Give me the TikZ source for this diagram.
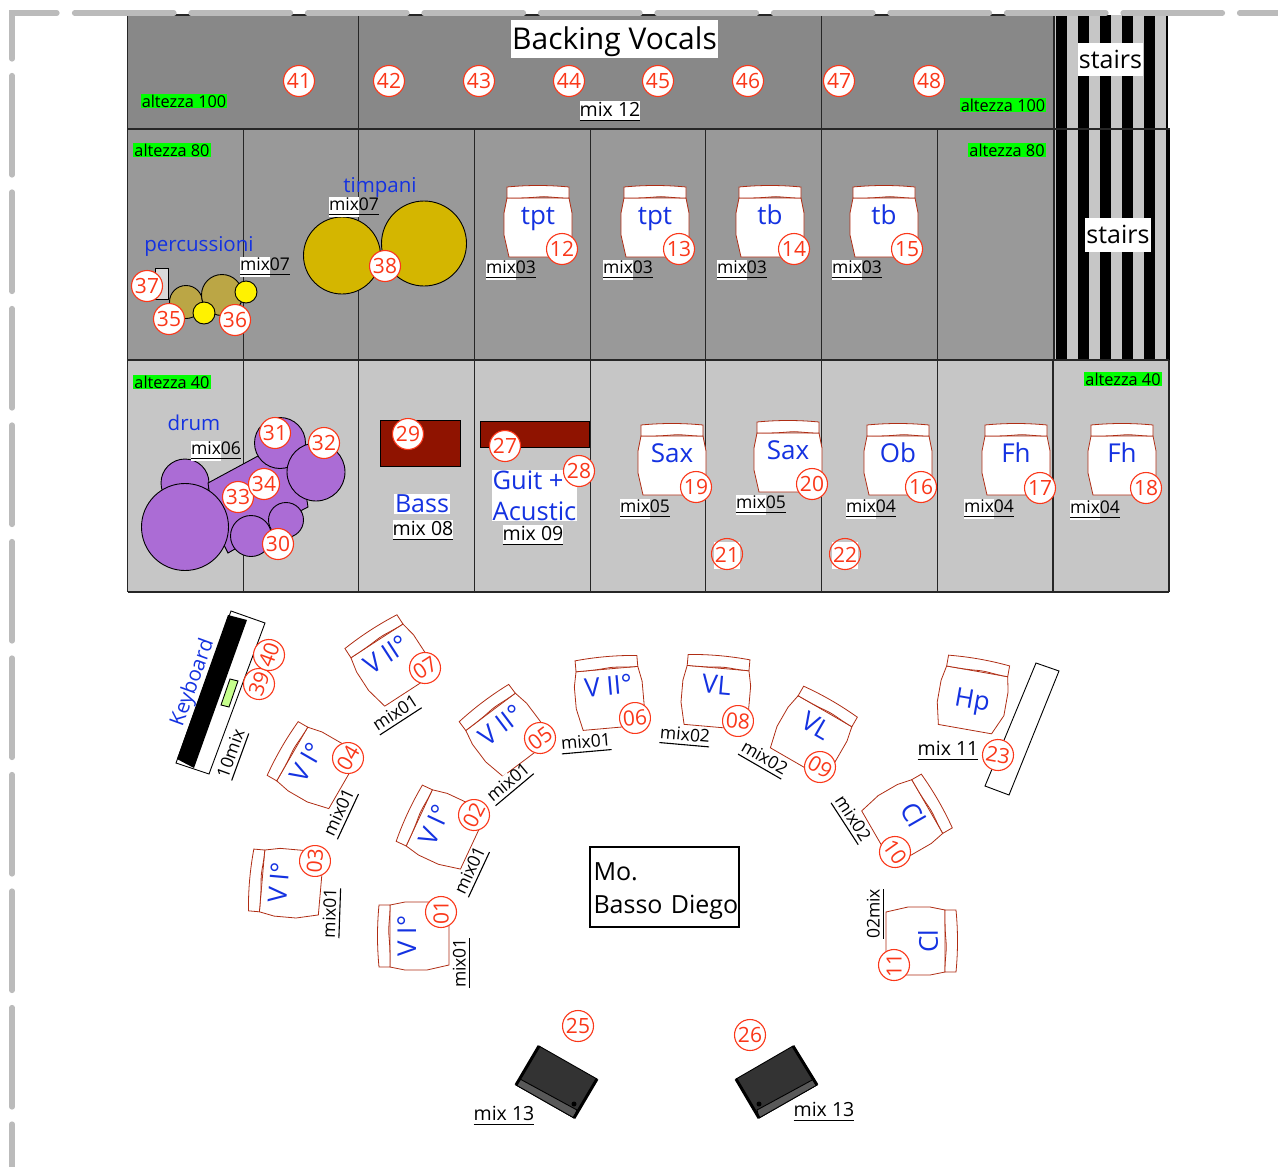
\documentclass[tikz,border=0pt]{standalone}
\usepackage{fontspec}
\setmainfont{Open Sans}
\usepackage{xcolor}
\usetikzlibrary{positioning, calc}
\definecolor{stageblue}{RGB}{20, 50, 225}
\definecolor{stagered}{RGB}{250, 55, 25}
\definecolor{standred}{RGB}{175, 45, 20}
\definecolor{rowhigh}{RGB}{136, 136, 136}
\definecolor{rowmid}{RGB}{153, 153, 153}
\definecolor{rowlow}{RGB}{198, 198, 198}
\definecolor{wallgray}{RGB}{187, 187, 187}
\definecolor{drumpurple}{RGB}{171, 108, 213}
\definecolor{timpgold}{RGB}{212, 182, 0}
\definecolor{perctan}{RGB}{187, 166, 69}
\definecolor{ampred}{RGB}{143, 19, 0}
\setlength{\fboxsep}{0pt}
\newcommand{\mixtag}[1]{\vtop{\hbox{\colorbox{white}{\strut mix}#1}\kern-2.5pt\hrule height 1.1pt}}
\newcommand{\mixline}[1]{\vtop{\hbox{\strut #1}\kern-2.5pt\hrule height 1.1pt}}
\tikzset{
    cell/.style={draw=black!85, line width=1.1pt},
    wall/.style={wallgray, line width=5.2pt, line cap=round},
    numtag/.style={circle, draw=stagered, line width=1.1pt, fill=white, text=stagered, inner sep=0pt, minimum size=31pt, font=\fontsize{21}{23}\selectfont},
    opentag/.style={numtag, fill=none},
    numbox/.style={fill=white, text=stagered, inner sep=0pt, minimum width=26pt, minimum height=27pt, font=\fontsize{21}{23}\selectfont},
    heightbox/.style={fill=green, inner sep=1pt, font=\fontsize{16.3}{18}\selectfont},
    bluetext/.style={text=stageblue, inner sep=0pt, font=\fontsize{20.5}{24}\selectfont},
    standtext/.style={text=stageblue, inner sep=0pt, font=\fontsize{26}{28}\selectfont},
    mixtext/.style={inner sep=0pt, font=\fontsize{17.5}{20}\selectfont},
    widetext/.style={mixtext, font=\fontsize{19.5}{22}\selectfont},
    whitetext/.style={fill=white, inner sep=2pt, font=\fontsize{25}{28}\selectfont},
    drumpart/.style={draw=black, fill=drumpurple, line width=0.9pt},
    kit/.style={draw=black, line width=0.9pt},
    pics/stand/.style={code={
        \draw[standred, fill=white, line width=0.8pt] (-31,-24) -- (-34,-9) -- (-34,13) -- (-29,35) -- (25,35) -- (34,15) -- (34,-9) -- (31,-24) -- cycle;
        \draw[standred, fill=white, line width=0.8pt] (-31,-35) .. controls (-10,-37) and (10,-37) .. (31,-35) -- (31,-24) .. controls (15,-24) and (10,-26) .. (0,-25) .. controls (-10,-24) and (-20,-24) .. (-31,-24) -- cycle;
        \node[standtext, transform shape, anchor=base] (-name) at (0,2) {#1};
    }}
}
\begin{document}
\begin{tikzpicture}[x=1pt, y=-1pt]
    \useasboundingbox (0,0) rectangle (1278,1167);

    % Risers
    \fill[rowhigh] (127.5,15) rectangle (1054,129);
    \fill[rowmid] (127.5,129) rectangle (1054,360);
    \fill[rowlow] (127.5,360) rectangle (1169,592);
    \fill[rowlow] (1054,15) rectangle (1168,360);
    \foreach \x in {1056,1078,1100,1122,1144}
        \fill[black] (\x,15) rectangle ++(11,345);
    \fill[black] (1166,15) rectangle (1168,129);
    \fill[black] (1166,129) rectangle (1170,360);
    \foreach \x in {127.5,358.5,821.5,1054}
        \draw[cell] (\x,15) -- (\x,129);
    \foreach \x in {127.5,243.5,358.5,474.5,590.5,705.5,821.5,937.5,1053,1169}
        \draw[cell] (\x,360) -- (\x,592);
    \foreach \x in {127.5,243.5,358.5,474.5,590.5,705.5,821.5,937.5,1054}
        \draw[cell] (\x,129) -- (\x,360);
    \draw[cell] (127.5,15) -- (1054,15);
    \draw[cell] (127.5,129) -- (1170,129);
    \draw[cell] (127.5,360) -- (1169,360);
    \draw[cell] (127.5,592) -- (1169,592);

    % Wall
    \draw[wall] (12,59) -- (12,13) -- (57,13);
    \draw[wall, dash pattern=on 99.5pt off 17pt] (74.5,13) -- (1278,13);
    \draw[wall, dash pattern=on 99.5pt off 17pt] (12,75.5) -- (12,1167);

    % Drum kit
    \draw[drumpart] (185,483) circle (24);
    \draw[drumpart] (208,483) -- (258,456) -- (300,455) -- (308,507) -- (302,510) -- (290,535) -- (235,549) -- (228,553) -- (225,547) -- (215,530) -- cycle;
    \draw[drumpart] (185,527) circle (43.5);
    \draw[drumpart] (280,443) circle (25.5);
    \draw[drumpart] (316,472) circle (29);
    \draw[drumpart] (286,520) circle (17.5);
    \draw[drumpart] (251,536) circle (20.5);

    % Percussion and timpani
    \draw[kit, fill=black!15] (155,268) rectangle (168,299);
    \draw[kit, fill=perctan] (186,302) circle (16.5);
    \draw[kit, fill=perctan] (222,295) circle (20.5);
    \draw[kit, fill=yellow] (246,292) circle (11);
    \draw[kit, fill=yellow] (204,313) circle (11);
    \draw[kit, fill=timpgold] (342,255.5) circle (38.5);
    \draw[kit, fill=timpgold] (424,243.5) circle (42.5);

    % Amps
    \draw[kit, fill=ampred] (380,420) rectangle (460,466);
    \draw[kit, fill=ampred] (480,421) rectangle (589,447);

    % Keyboard
    \draw[kit, fill=white] (231,611) -- (265,623) -- (209,774) -- (176,763) -- cycle;
    \fill[black] (228,615) -- (247,620) -- (194,768) -- (177,759) -- cycle;
    \draw[kit, fill=green!50!yellow!45] (230,679) -- (238,681) -- (229,707) -- (221,705) -- cycle;

    % Harp rack
    \draw[kit, fill=white] (1036,663) -- (1059,671) -- (1009,795) -- (985,786) -- cycle;

    % Monitors
    \draw[kit, fill=black!80] (539,1046) -- (597,1079) -- (574,1118) -- (516,1085) -- cycle;
    \draw[kit, fill=black!65] (520,1079) -- (577,1110) -- (574,1118) -- (516,1085) -- cycle;
    \draw[line width=3pt] (539,1046) -- (516,1085);
    \draw[line width=3pt] (597,1079) -- (574,1118);
    \fill[black] (574,1104) circle (2.5);
    \draw[kit, fill=black!80] (793,1046) -- (817,1085) -- (759,1118) -- (736,1079) -- cycle;
    \draw[kit, fill=black!65] (814,1079) -- (757,1110) -- (759,1118) -- (817,1085) -- cycle;
    \draw[line width=3pt] (793,1046) -- (817,1085);
    \draw[line width=3pt] (736,1079) -- (759,1118);
    \fill[black] (759,1104) circle (2.5);

    % Stands
    \foreach \x/\y/\ang/\txt [count=\i] in {
        538/222/0/tpt, 655/222/0/tpt, 770/222/0/tb, 884/222/0/tb,
        672/460/0/Sax, 788/457/0/Sax, 898/460/0/Ob, 1016/460/0/Fh, 1122/460/0/Fh,
        414/936/90/V I°, 441/828/65/V I°, 286/883/85/V I°, 313/766/60/V I°,
        505/731/37/V II°, 609/693/5/V II°, 390/661/33/V II°,
        716/692/-5/VL, 813/732/-30/VL, 906.5/818.5/-60/Cl, 921/941/-90/, 973/695/-10/}
        \pic[rotate=\ang] (stand\i) at (\x,\y) {stand={\txt}};
    \node[standtext, rotate=90] (clari) at (928,941) {Cl};
    \node[standtext, rotate=-10] (harp) at (972,702) {Hp};

    % Labels
    \node[whitetext, font=\fontsize{30}{34}\selectfont, inner sep=1pt, minimum width=207pt, minimum height=38pt] (backing) at (614.5,39) {\rule{0pt}{29pt}Backing Vocals};
    \node[whitetext, minimum width=65pt, minimum height=33pt, inner sep=0pt] (stairsa) at (1110.5,59.5) {stairs};
    \node[whitetext, minimum width=66pt, minimum height=34pt, inner sep=0pt] (stairsb) at (1118,234.5) {stairs};
    \foreach \x/\y/\txt [count=\i] in {184/101/altezza 100, 1003/105/altezza 100, 172/150/altezza 80, 1007/150/altezza 80, 172/382/altezza 40, 1123/379/altezza 40}
        \node[heightbox] (height\i) at (\x,\y) {\txt};
    \foreach \x/\y/\txt [count=\i] in {194/423/drum, 199/246/percussioni, 380/187/timpani}
        \node[bluetext] (group\i) at (\x,\y) {\txt};
    \node[bluetext, fill=white, font=\fontsize{25}{28}\selectfont, inner sep=1pt] (bass) at (422,504) {Bass};
    \node[bluetext, fill=white, align=left, font=\fontsize{25.5}{31}\selectfont, inner sep=1pt] (guit) at (534.5,495.5) {Guit +\\Acustic};
    \node[bluetext, rotate=70] (keys) at (193,683) {Keyboard};
    \node[draw=black, fill=white, line width=2pt, minimum width=149pt, minimum height=80pt, inner sep=0pt] (conductor) at (664.5,886.5) {};
    \node[align=left, inner sep=0pt, text width=145pt, font=\fontsize{25}{33}\selectfont] (maestro) at (666,891) {Mo.\\Basso Diego};

    % Mix labels
    \foreach \x/\y/\ang/\txt [count=\i] in {
        265/266/0/07, 354/206/0/07, 216/450/0/06, 511/269/0/03, 628/269/0/03, 742/269/0/03, 857/269/0/03,
        645/508/0/05, 761/504/0/05, 871/508/0/04, 989/508/0/04, 1095/509/0/04,
        396/714/33/01, 340/813/65/01, 331/913/88/01, 509/783/40/01, 471/871/65/01, 461/963/90/01, 586/743/5/01,
        685/736/-5/02, 764/759/-30/02, 852/819/-57/02}
        \node[mixtext, rotate=\ang] (mix\i) at (\x,\y) {\mixtag{\txt}};
    \foreach \x/\y/\txt [count=\i] in {423/530/mix 08, 533/535/mix 09, 610/111/mix 12}
        \node[widetext, fill=white] (mixwide\i) at (\x,\y) {\mixline{\txt}};
    \foreach \x/\y/\txt [count=\i] in {948/750/mix 11, 504/1115/mix 13, 824/1111/mix 13}
        \node[widetext] (mixplain\i) at (\x,\y) {\mixline{\txt}};
    \node[mixtext, rotate=70] (mixkeys) at (232,754) {\mixline{10mix}};
    \node[mixtext, rotate=90] (mixclari) at (875,914) {\mixline{02mix}};

    % Numbers
    \foreach \x/\y/\ang/\num in {
        441/912/90/01, 474/815/63/02, 315/861/85/03, 348/758/60/04, 540/738/37/05, 635/718/5/06, 425/668/33/07,
        738/721/-5/08, 820/767/-30/09, 895/852/-55/10, 894/965/90/11, 562/249/0/12, 679/249/0/13, 794/249/0/14,
        907/249/0/15, 921/487/0/16, 1040/488/0/17, 1146/488/0/18, 696/487/0/19, 812/484/0/20, 998/755/-10/23,
        578/1026/0/25, 750/1035/0/26, 505/446/0/27, 579/471/0/28, 408/434/0/29, 278/544/0/30, 275/433/0/31,
        324/443/0/32, 238/497/0/33, 264/484/0/34, 169/319/0/35, 235/320/0/36, 147/286/0/37, 385/266/0/38,
        259/684/70/39, 269/655/70/40, 299/81/0/41, 389/81/0/42, 479/81/0/43, 569/81/0/44, 658/81/0/45,
        748/81/0/46, 839/81/0/47, 929/81/0/48}
        \node[numtag, rotate=\ang] (num\num) at (\x,\y) {\num};
    \node[numbox] (num21) at (727,555) {21};
    \node[opentag] (ring21) at (727,554) {};
    \node[numbox] (num22) at (845,555) {22};
    \node[opentag] (ring22) at (845,554) {};
\end{tikzpicture}
\end{document}
